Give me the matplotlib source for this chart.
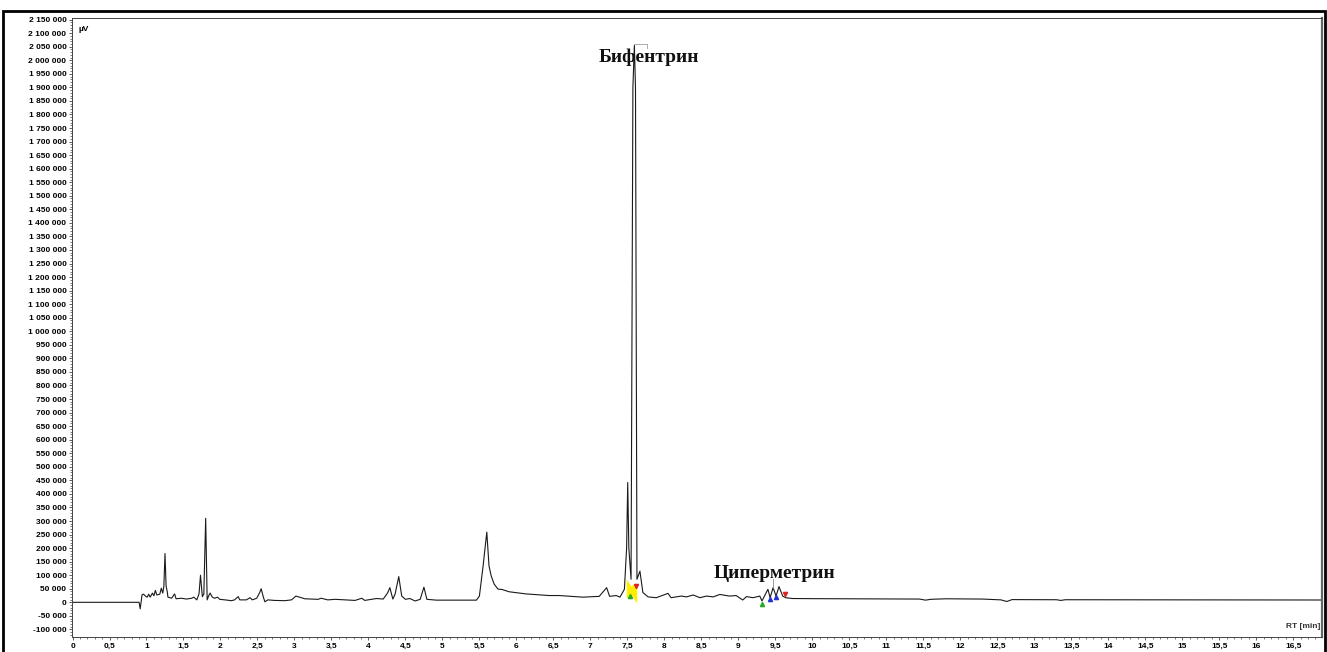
import matplotlib.pyplot as plt
from matplotlib.patches import Rectangle
from matplotlib.ticker import MultipleLocator, FuncFormatter

# retention time (min) and detector signal (uV)
rt = [0.00, 0.90, 0.915, 0.94, 0.96, 0.99, 1.01, 1.03, 1.05, 1.08, 1.10, 1.12, 1.14,
      1.18, 1.20, 1.22, 1.235, 1.25, 1.265, 1.28, 1.29, 1.34, 1.38, 1.40, 1.47, 1.54,
      1.61, 1.64, 1.68, 1.71, 1.73, 1.755, 1.775, 1.80, 1.82, 1.84, 1.86, 1.89, 1.92,
      1.96, 1.99, 2.06, 2.15, 2.19, 2.24, 2.26, 2.35, 2.40, 2.43, 2.49, 2.53, 2.55,
      2.58, 2.60, 2.64, 2.73, 2.87, 2.96, 3.02, 3.07, 3.14, 3.32, 3.36, 3.45, 3.55,
      3.75, 3.82, 3.91, 3.95, 4.04, 4.11, 4.20, 4.26, 4.29, 4.33, 4.36, 4.41, 4.45,
      4.50, 4.56, 4.63, 4.70, 4.75, 4.79, 4.92, 5.10, 5.46, 5.50, 5.55, 5.60, 5.63,
      5.66, 5.70, 5.75, 5.81, 5.90, 6.13, 6.44, 6.58, 6.90, 7.12, 7.22, 7.26, 7.35,
      7.40, 7.46, 7.49, 7.505, 7.52, 7.55, 7.575, 7.595, 7.61, 7.63, 7.67, 7.71,
      7.78, 7.89, 8.05, 8.09, 8.23, 8.30, 8.39, 8.48, 8.57, 8.66, 8.75, 8.88, 8.97,
      9.06, 9.11, 9.20, 9.29, 9.32, 9.40, 9.43, 9.47, 9.51, 9.55, 9.60, 9.64, 9.73,
      10.0, 10.5, 11.0, 11.45, 11.53, 11.6, 11.8, 12.3, 12.55, 12.63, 12.7, 13.3,
      13.36, 13.42, 16.89]
signal = [0, 0, -24000, 28000, 30000, 22000, 19000, 30000, 19000, 34000, 24000, 44000, 27000,
          30000, 52000, 34000, 60000, 180000, 60000, 40000, 19000, 15000, 31000, 13000, 15000, 12000,
          15000, 19000, 9000, 31000, 100000, 21000, 30000, 310000, 9000, 24000, 34000, 19000, 15000,
          19000, 11000, 9000, 6000, 9000, 21000, 9000, 9000, 17000, 9000, 15000, 36000, 50000,
          19000, 2000, 9000, 7000, 6000, 9000, 23000, 19000, 13000, 11000, 15000, 9000, 11000,
          8000, 7000, 15000, 7000, 11000, 14000, 12000, 35000, 54000, 12000, 30000, 95000, 23000,
          11000, 14000, 5000, 11000, 56000, 11000, 8000, 8000, 8000, 23000, 134000, 259000, 134000,
          97000, 67000, 49000, 47000, 39000, 31000, 25000, 25000, 19000, 22000, 54000, 22000, 25000,
          19000, 48000, 200000, 442000, 200000, 85000, 1900000, 2055000, 1900000, 85000, 115000, 36000,
          20000, 17000, 33000, 17000, 23000, 20000, 27000, 17000, 23000, 20000, 29000, 23000, 25000,
          8500, 21000, 17000, 23000, 5000, 48000, 17000, 54000, 23000, 58000, 23000, 17000, 14000,
          13500, 13000, 12500, 12000, 8000, 11000, 13000, 12000, 9000, 3000, 10000, 9500,
          7000, 9500, 8500]

# integration markers
yellow_rt = [7.525, 7.525, 7.60, 7.60]
yellow_sig = [25000, 55000, 25000, 55000]
start_rt = [7.54, 9.32]
start_sig = [22000, -6000]
mid_rt = [9.43, 9.51]
mid_sig = [14000, 20000]
end_rt = [7.62, 9.63]
end_sig = [62000, 32000]

peak_names = ['Бифентрин', 'Циперметрин']
name_rt = [7.11, 8.67]
name_sig = [1994000, 88000]


def y_fmt(v, pos):
    return '{:,}'.format(int(round(v))).replace(',', ' ')


def x_fmt(v, pos):
    if abs(v - round(v)) < 1e-6:
        return str(int(round(v)))
    return '{:.1f}'.format(v).replace('.', ',')


W, H = 1327, 652
fig = plt.figure(figsize=(W / 100, H / 100), dpi=100)
ax = fig.add_axes([72 / W, (H - 637) / H, 1250 / W, 619 / H])

ax.plot(rt, signal, color='#1a1a1a', lw=0.8)
ax.plot(yellow_rt, yellow_sig, color='#ffee00', lw=3.5, solid_joinstyle='miter')
ax.plot(start_rt, start_sig, '^', color='#22aa22', ms=3)
ax.plot(mid_rt, mid_sig, '^', color='#2233cc', ms=3)
ax.plot(end_rt, end_sig, 'v', color='#dd2222', ms=3)

# leader lines of the peak labels
ax.plot([7.59, 7.77, 7.77], [2061000, 2061000, 2045000], color='#aaaaaa', lw=0.7)
ax.plot([9.47, 9.47], [54000, 86000], color='#888888', lw=0.6)

for name, x, y in zip(peak_names, name_rt, name_sig):
    ax.text(x, y, name, family='Liberation Serif', fontweight='bold', fontsize=14,
            ha='left', va='baseline', color='#111111')

ax.set_xlim(-0.007, 16.89)
ax.set_ylim(-128000, 2156000)
ax.xaxis.set_major_locator(MultipleLocator(0.5))
ax.xaxis.set_minor_locator(MultipleLocator(0.1))
ax.yaxis.set_major_locator(MultipleLocator(50000))
ax.yaxis.set_minor_locator(MultipleLocator(10000))
ax.xaxis.set_major_formatter(FuncFormatter(x_fmt))
ax.yaxis.set_major_formatter(FuncFormatter(y_fmt))
ax.tick_params(which='major', direction='out', length=2.5, width=0.6, pad=1.5,
               labelsize=6, color='#444444')
ax.tick_params(which='minor', direction='out', length=1.5, width=0.5, color='#444444')
for lab in ax.get_xticklabels() + ax.get_yticklabels():
    lab.set_fontweight('bold')
    lab.set_family('Liberation Sans')

for side in ['left', 'bottom', 'top']:
    ax.spines[side].set_linewidth(0.7)
    ax.spines[side].set_color('#444444')
ax.spines['right'].set_linewidth(1.6)
ax.spines['right'].set_color('#666666')

ax.text(0.005, 0.987, 'µV', transform=ax.transAxes, fontsize=6, fontweight='bold',
        family='Liberation Sans', ha='left', va='top')
ax.text(0.999, 0.012, 'RT [min]', transform=ax.transAxes, fontsize=6, fontweight='bold',
        family='Liberation Sans', ha='right', va='bottom', color='#333333')

# outer frame
frame = Rectangle((3.5 / W, -0.05), (1324.5 - 3.5) / W, 0.05 + (H - 11) / H,
                  transform=fig.transFigure, fill=False, ec='black', lw=2)
fig.patches.append(frame)

fig.savefig('out.png', dpi=100)
